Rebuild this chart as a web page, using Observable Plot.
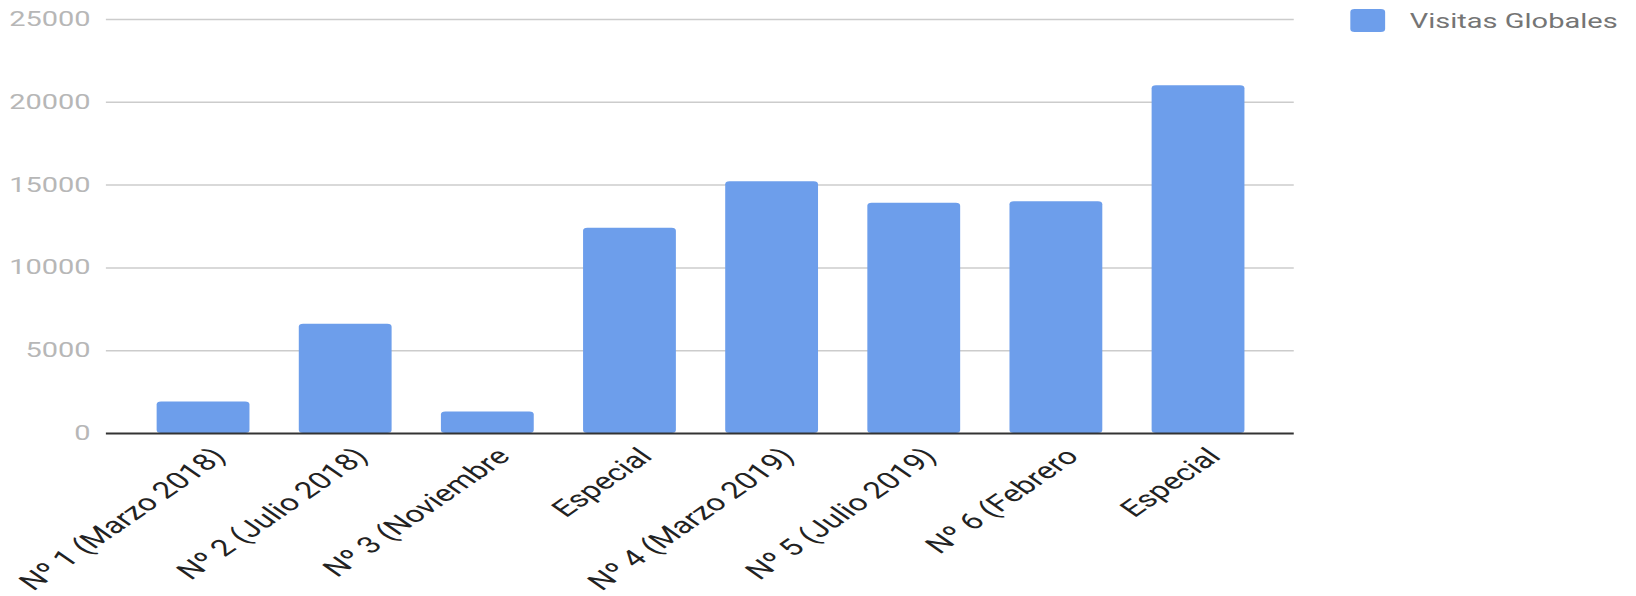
<!DOCTYPE html>
<html>
<head>
<meta charset="utf-8">
<script src="https://cdn.jsdelivr.net/npm/d3@7"></script>
<script src="https://cdn.jsdelivr.net/npm/@observablehq/plot@0.6"></script>
<style>
  html, body { margin: 0; padding: 0; background: #fff; overflow: hidden; }
  #wrap { position: relative; width: 1128px; height: 596px; transform-origin: 0 0; transform: scaleX(1.4504); font-family: Roboto, sans-serif; }
  #legend { position: absolute; left: 931px; top: 9px; height: 24px; }
  #legend .sw { position: absolute; left: 0; top: 0; width: 23.5px; height: 23px; background: #6d9eeb; border-radius: 3px; }
  #legend .lb { position: absolute; left: 41px; top: 2px; font-size: 20px; line-height: 20px; color: #757575; white-space: nowrap; }
  svg { display: block; }
</style>
</head>
<body>
<div id="wrap">
  <div id="chart"></div>
  <div id="legend"><div class="sw"></div><div class="lb">Visitas Globales</div></div>
</div>
<script>
const ids = ["n1", "n2", "n3", "esp1", "n4", "n5", "n6", "esp2"];
const labels = ["Nº 1 (Marzo 2018)", "Nº 2 (Julio 2018)", "Nº 3 (Noviembre", "Especial", "Nº 4 (Marzo 2019)", "Nº 5 (Julio 2019)", "Nº 6 (Febrero", "Especial"];
const visitas = [1900, 6600, 1300, 12400, 15200, 13900, 14000, 21000];
const yTicks = [0, 5000, 10000, 15000, 20000, 25000];
const seriesName = "Visitas Globales";

const data = ids.map((id, i) => ({id, label: labels[i], value: visitas[i]}));

const chart = Plot.plot({
  width: 1128,
  height: 596,
  marginLeft: 73,
  marginRight: 236,
  marginTop: 19,
  marginBottom: 163,
  style: {fontFamily: "Roboto, sans-serif", background: "#fff"},
  x: {domain: ids, padding: 0.35, axis: null},
  y: {domain: [0, 25000], axis: null},
  marks: [
    Plot.ruleY(yTicks.filter(t => t > 0), {stroke: "#cccccc", strokeWidth: 1.5}),
    Plot.barY(data, {x: "id", y: "value", fill: "#6d9eeb", rx: 3}),
    Plot.ruleY([0], {stroke: "#333333", strokeWidth: 1.8}),
    Plot.axisY({ticks: yTicks, tickSize: 0, tickPadding: 11, fontSize: 20, fill: "#b7b7b7", tickFormat: d => String(d), label: null}),
    Plot.text(data, {x: "id", y: () => 0, text: "label", rotate: -45, textAnchor: "end", lineAnchor: "middle", dx: 11, dy: 19, fontSize: 23, fill: "#222222"})
  ]
});
document.getElementById("chart").appendChild(chart);
</script>
</body>
</html>
